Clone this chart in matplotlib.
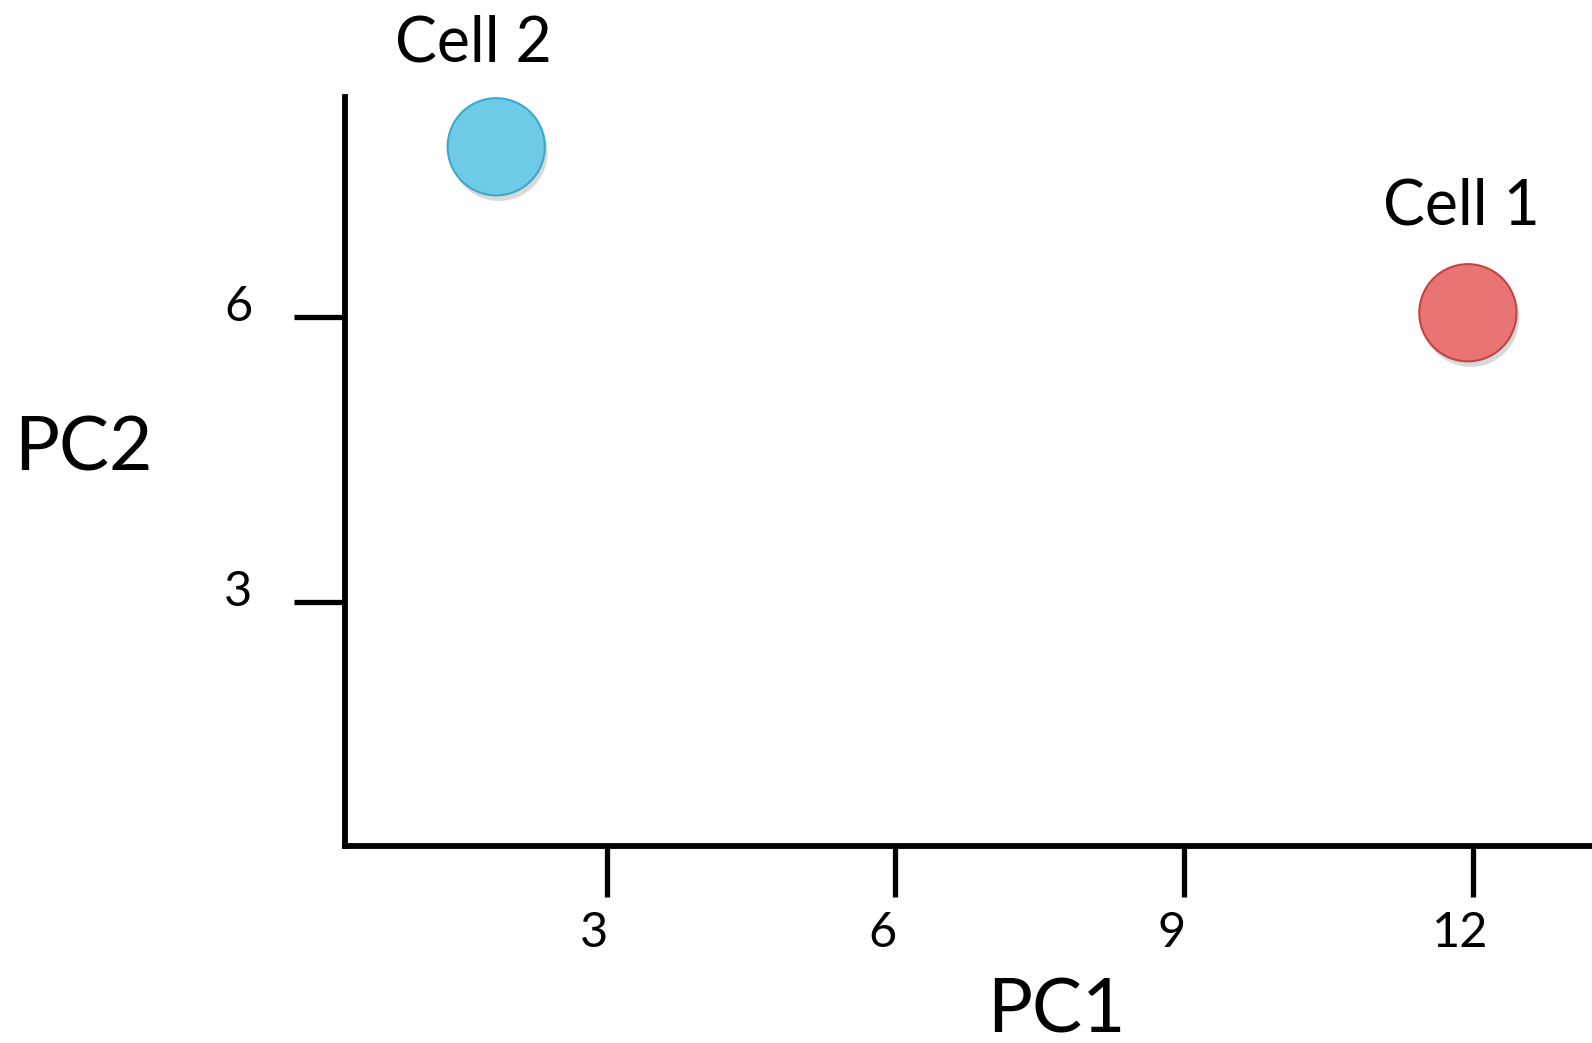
import matplotlib
matplotlib.use("Agg")
import matplotlib.pyplot as plt
import matplotlib.patheffects as pe
from matplotlib.transforms import blended_transform_factory, ScaledTranslation

# ---- data ----
cells = ["Cell 1", "Cell 2"]
pc1 = [11.95, 1.85]
pc2 = [6.05, 7.8]
face_colors = ["#e97474", "#6dcbe8"]
edge_colors = ["#c44444", "#3fa8c8"]
x_ticks = [3, 6, 9, 12]
y_ticks = [3, 6]
x_tick_labels = ["3", "6", "9", "12"]
y_tick_labels = ["3", "6"]

plt.rcParams['font.family'] = ['Lato', 'DejaVu Sans']

W, H, DPI = 1592, 1043, 100
fig = plt.figure(figsize=(W / DPI, H / DPI), dpi=DPI)
left, right = 345.2 / W, 1.0
bottom, top = 1 - 845.8 / H, 1 - 96.5 / H
ax = fig.add_axes([left, bottom, right - left, top - bottom])
ax.set_xlim(0.28, 13.24)
ax.set_ylim(0.43, 8.33)
ax.patch.set_visible(False)

for s in ["top", "right"]:
    ax.spines[s].set_visible(False)
shadow = [pe.SimplePatchShadow(offset=(2, -2), shadow_rgbFace="black", alpha=0.12), pe.Normal()]
for s in ["left", "bottom"]:
    ax.spines[s].set_linewidth(4.2)
    ax.spines[s].set_color("black")
    ax.spines[s].set_capstyle("projecting")
    ax.spines[s].set_path_effects(shadow)

ax.set_xticks(x_ticks)
ax.set_yticks(y_ticks)
ax.tick_params(axis="both", direction="out", length=36.7, width=3.8, color="black",
               labelbottom=False, labelleft=False)

# tick labels (offset like the reference)
px = 1.0 / DPI
tx = blended_transform_factory(ax.transData, ax.transAxes)
for v, lab in zip(x_ticks, x_tick_labels):
    ax.text(v, 0, lab, transform=tx + ScaledTranslation(-13 * px, -87 * px, fig.dpi_scale_trans),
            ha="center", va="center", fontsize=35, clip_on=False)
ty = blended_transform_factory(ax.transAxes, ax.transData)
for v, lab in zip(y_ticks, y_tick_labels):
    ax.text(0, v, lab, transform=ty + ScaledTranslation(-107 * px, 10 * px, fig.dpi_scale_trans),
            ha="center", va="center", fontsize=35, clip_on=False)

# points
sc = ax.scatter(pc1, pc2, s=4900, c=face_colors, edgecolors=edge_colors, linewidths=1.5,
                zorder=3, clip_on=False)
sc.set_path_effects([pe.SimplePatchShadow(offset=(2, -4), shadow_rgbFace="black", alpha=0.15), pe.Normal()])

label_offsets = {"Cell 1": (-6 * 0.72, 106 * 0.72), "Cell 2": (-23 * 0.72, 103 * 0.72)}
for name, x, y in zip(cells, pc1, pc2):
    ax.annotate(name, (x, y), xytext=label_offsets[name], textcoords="offset points",
                ha="center", va="center", fontsize=45, annotation_clip=False)

# axis titles
fig.text(83 / W, 1 - 449 / H, "PC2", ha="center", va="center", fontsize=54)
fig.text(1056 / W, 1 - 1011 / H, "PC1", ha="center", va="center", fontsize=54)

fig.savefig("out.png", dpi=DPI)
